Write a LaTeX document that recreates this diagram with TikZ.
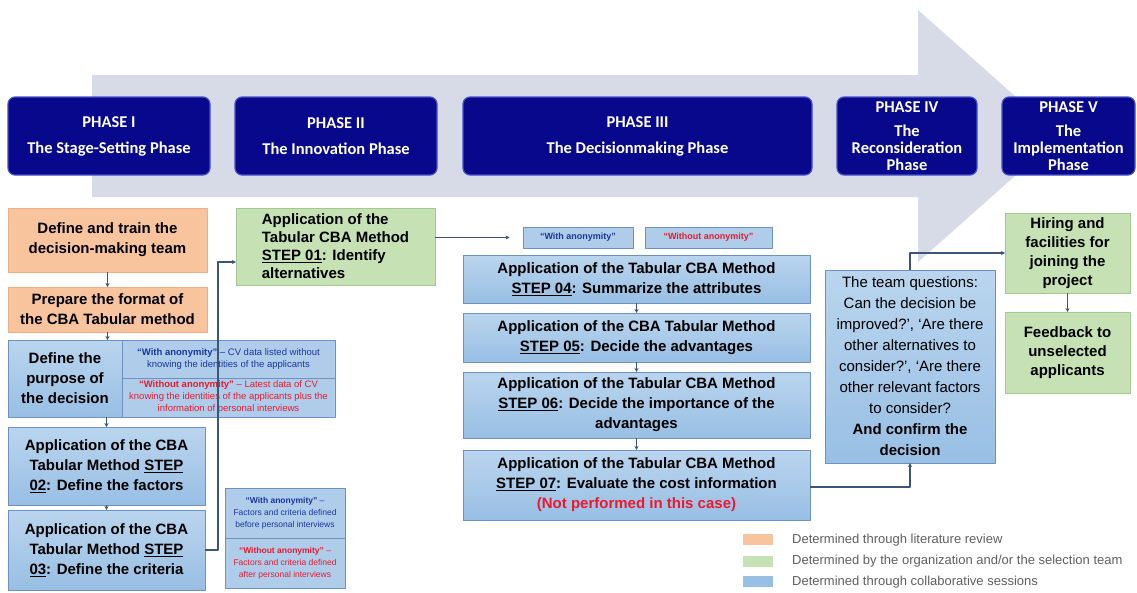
\documentclass[tikz,border=0pt]{standalone}
\usepackage{fontspec}
\setmainfont{Liberation Sans}
\newfontfamily\phasefont{Carlito}
\usetikzlibrary{arrows.meta}
\definecolor{phaseblue}{RGB}{8,8,140}
\definecolor{phaseedge}{RGB}{70,80,200}
\definecolor{steptop}{RGB}{186,213,238}
\definecolor{stepbot}{RGB}{152,191,228}
\definecolor{stepedge}{RGB}{110,145,190}
\definecolor{litfill}{RGB}{248,196,158}
\definecolor{litedge}{RGB}{240,175,135}
\definecolor{orgfill}{RGB}{198,226,181}
\definecolor{orgedge}{RGB}{165,200,145}
\definecolor{notefill}{RGB}{175,205,235}
\definecolor{noteblue}{RGB}{25,55,150}
\definecolor{notered}{RGB}{235,25,45}
\definecolor{linkcol}{RGB}{60,85,120}
\definecolor{legcol}{RGB}{95,95,95}
\definecolor{arrowgray}{RGB}{214,219,231}
\begin{document}
\begin{tikzpicture}[x=1pt,y=-1pt,>={Stealth[length=4pt,width=4pt]},line join=round,
    phase/.style={draw=phaseedge,line width=1.2pt,fill=phaseblue,rounded corners=7pt,text=white,
      align=center,inner sep=0pt,minimum height=78pt,
      font=\phasefont\bfseries\fontsize{16.5}{17}\selectfont},
    stepbox/.style={draw=stepedge,line width=0.8pt,top color=steptop,bottom color=stepbot,
      align=center,inner sep=0pt,outer sep=0pt,font=\bfseries\fontsize{15}{20}\selectfont},
    litbox/.style={stepbox,draw=litedge,top color=litfill,bottom color=litfill},
    orgbox/.style={stepbox,draw=orgedge,top color=orgfill,bottom color=orgfill},
    note/.style={draw=stepedge,line width=0.6pt,fill=notefill,align=center,inner sep=0pt,
      font=\fontsize{9.5}{12}\selectfont},
    tag/.style={draw=stepedge,line width=0.8pt,fill=notefill,inner sep=0pt,minimum height=21pt,
      font=\bfseries\fontsize{9}{10}\selectfont},
    link/.style={->,draw=linkcol,line width=1.1pt},
    swatch/.style={fill=#1,minimum width=30pt,minimum height=11pt,inner sep=0pt},
    legtext/.style={anchor=west,text=legcol,inner sep=0pt,font=\fontsize{13}{15}\selectfont}]
  \useasboundingbox (0,0) rectangle (1137,592);
  % big arrow behind the phases
  \fill[arrowgray] (92,75) -- (918,75) -- (918,10) -- (1060,136) -- (918,262) -- (918,197) -- (92,197) -- cycle;
  \node[phase,minimum width=202pt] (ph1) at (109,136) {PHASE I\\[9pt]The Stage-Setting Phase};
  \node[phase,minimum width=202pt] (ph2) at (336,136) {PHASE II\\[9pt]The Innovation Phase};
  \node[phase,minimum width=349pt] (ph3) at (637.5,136) {PHASE III\\[9pt]The Decisionmaking Phase};
  \node[phase,minimum width=140pt] (ph4) at (907,136) {PHASE IV\\[7pt]The\\Reconsideration\\Phase};
  \node[phase,minimum width=133pt] (ph5) at (1068.5,136) {PHASE V\\[7pt]The\\Implementation\\Phase};
  % phase I
  \node[litbox,minimum width=199pt,minimum height=64pt] (train) at (107.5,240) {Define and train the\\decision-making team};
  \node[litbox,minimum width=199pt,minimum height=45pt] (format) at (107.5,309.5) {Prepare the format of\\the CBA Tabular method};
  \node[stepbox,minimum width=114pt,minimum height=77pt] (purpose) at (65,378.5) {Define the\\purpose of\\the decision};
  \node[note,minimum width=213pt,minimum height=38pt,text=noteblue] (purpA) at (228.5,359)
    {\textbf{“With anonymity”} – CV data listed without\\knowing the identities of the applicants};
  \node[note,minimum width=213pt,minimum height=39pt,text=notered] (purpB) at (228.5,397.5)
    {\textbf{“Without anonymity”} – Latest data of CV\\knowing the identities of the applicants plus the\\information of personal interviews};
  \node[stepbox,minimum width=197pt,minimum height=78pt] (factors) at (106.5,466) {Application of the CBA\\Tabular Method \underline{STEP}\\\underline{02}: Define the factors};
  \node[stepbox,minimum width=197pt,minimum height=80pt] (criteria) at (106.5,550) {Application of the CBA\\Tabular Method \underline{STEP}\\\underline{03}: Define the criteria};
  \node[note,minimum width=120pt,minimum height=50pt,text=noteblue,font=\fontsize{8.5}{12}\selectfont] (critA) at (285,513)
    {\textbf{“With anonymity”} –\\Factors and criteria defined\\before personal interviews};
  \node[note,minimum width=120pt,minimum height=50pt,text=notered,font=\fontsize{8.5}{12}\selectfont] (critB) at (285,563)
    {\textbf{“Without anonymity”} –\\Factors and criteria defined\\after personal interviews};
  % phase II
  \node[orgbox,minimum width=199pt,minimum height=77pt,align=left,font=\bfseries\fontsize{15}{18}\selectfont] (alt) at (335.5,246.5)
    {Application of the\\Tabular CBA Method\\\underline{STEP 01}: Identify\\alternatives};
  % phase III
  \node[tag,minimum width=110pt,text=noteblue] (tagA) at (578,237.5) {“With anonymity”};
  \node[tag,minimum width=127pt,text=notered] (tagB) at (708.5,237.5) {“Without anonymity”};
  \node[stepbox,minimum width=347pt,minimum height=48pt] (s4) at (636.5,279) {Application of the Tabular CBA Method\\\underline{STEP 04}: Summarize the attributes};
  \node[stepbox,minimum width=347pt,minimum height=49pt] (s5) at (636.5,337.5) {Application of the CBA Tabular Method\\\underline{STEP 05}: Decide the advantages};
  \node[stepbox,minimum width=347pt,minimum height=66pt] (s6) at (636.5,405) {Application of the Tabular CBA Method\\\underline{STEP 06}: Decide the importance of the\\advantages};
  \node[stepbox,minimum width=347pt,minimum height=70pt] (s7) at (636.5,485) {Application of the Tabular CBA Method\\\underline{STEP 07}: Evaluate the cost information\\\textcolor{notered}{(Not performed in this case)}};
  % phase IV and V
  \node[stepbox,minimum width=170pt,minimum height=193pt,font=\fontsize{15}{21}\selectfont] (team) at (910,366.5)
    {The team questions:\\Can the decision be\\improved?’, ‘Are there\\other alternatives to\\consider?’, ‘Are there\\other relevant factors\\to consider?\\\textbf{And confirm the}\\\textbf{decision}};
  \node[orgbox,minimum width=125pt,minimum height=80pt,font=\bfseries\fontsize{15}{19}\selectfont] (hire) at (1067.5,253) {Hiring and\\facilities for\\joining the\\project};
  \node[orgbox,minimum width=125pt,minimum height=81pt,font=\bfseries\fontsize{15}{19}\selectfont] (feed) at (1067.5,352.5) {Feedback to\\unselected\\applicants};
  % connectors
  \draw[link] (train) -- (format);
  \draw[link] (format.south) -- (format.south |- purpose.north);
  \draw[link] (factors.north |- purpose.south) -- (factors.north);
  \draw[link] (factors) -- (criteria);
  \draw[link] (criteria.east) -- ++(13,0) |- ([yshift=-15.5pt]alt.west);
  \draw[link] (alt.east |- tagA.west) -- ([xshift=-13pt]tagA.west);
  \draw[link] (s4) -- (s5);
  \draw[link] (s5) -- (s6);
  \draw[link] (s6) -- (s7);
  \draw[link] ([yshift=-2pt]s7.east) -| (team.south);
  \draw[link] (team.north) |- (hire.west);
  \draw[link] (hire) -- (feed);
  % legend
  \node[swatch=litfill] (leglit) at (758,539.5) {};
  \node[swatch=orgfill] (legorg) at (758,561) {};
  \node[swatch=stepbot] (legcol) at (758,581.5) {};
  \node[legtext] (leglittxt) at (792,540) {Determined through literature review};
  \node[legtext] (legorgtxt) at (792,561.5) {Determined by the organization and/or the selection team};
  \node[legtext] (legcoltxt) at (792,582) {Determined through collaborative sessions};
\end{tikzpicture}
\end{document}
